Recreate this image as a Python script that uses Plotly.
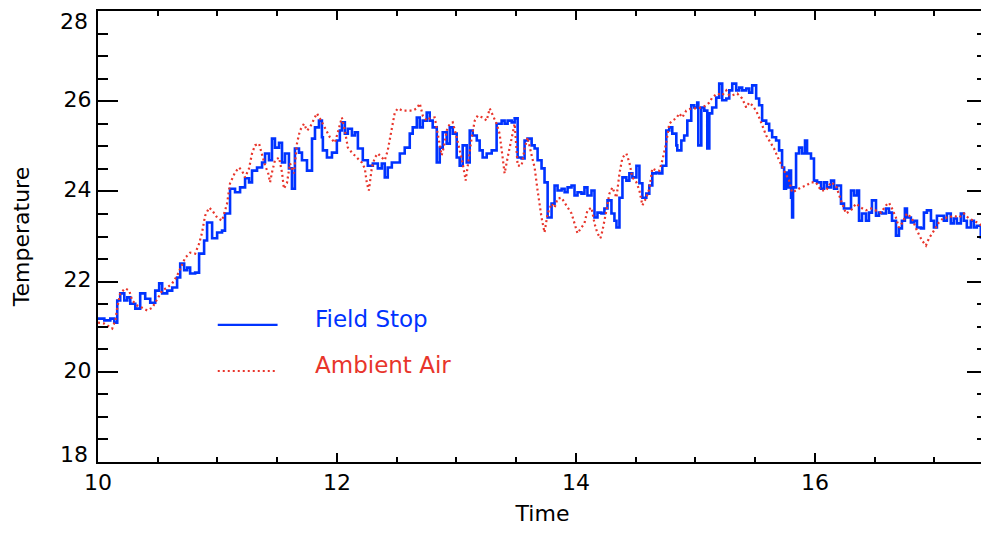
import plotly.graph_objects as go

# ---- data ----
series_names = ["Field Stop", "Ambient Air"]

field_time = [10.000, 10.053, 10.103, 10.136, 10.161, 10.186, 10.220, 10.245, 10.270, 10.312,
              10.353, 10.395, 10.437, 10.479, 10.512, 10.537, 10.579, 10.621, 10.662, 10.688,
              10.721, 10.746, 10.771, 10.813, 10.846, 10.888, 10.913, 10.955, 10.997, 11.038,
              11.063, 11.105, 11.147, 11.189, 11.231, 11.264, 11.289, 11.331, 11.373, 11.398,
              11.431, 11.456, 11.481, 11.515, 11.540, 11.565, 11.598, 11.623, 11.648, 11.682,
              11.707, 11.749, 11.791, 11.816, 11.849, 11.874, 11.882, 11.916, 11.958, 11.999,
              12.024, 12.041, 12.066, 12.091, 12.125, 12.150, 12.175, 12.216, 12.258, 12.300,
              12.342, 12.375, 12.400, 12.425, 12.459, 12.484, 12.526, 12.567, 12.609, 12.634,
              12.668, 12.693, 12.718, 12.751, 12.776, 12.801, 12.835, 12.860, 12.885, 12.918,
              12.944, 12.969, 13.002, 13.027, 13.052, 13.086, 13.111, 13.136, 13.170, 13.194,
              13.219, 13.253, 13.295, 13.336, 13.378, 13.403, 13.428, 13.462, 13.487, 13.512,
              13.545, 13.570, 13.595, 13.629, 13.654, 13.679, 13.712, 13.737, 13.763, 13.796,
              13.821, 13.846, 13.880, 13.905, 13.930, 13.963, 13.988, 14.013, 14.046, 14.071,
              14.096, 14.130, 14.155, 14.180, 14.213, 14.238, 14.264, 14.297, 14.322, 14.339,
              14.364, 14.389, 14.422, 14.447, 14.472, 14.506, 14.531, 14.556, 14.589, 14.614,
              14.639, 14.673, 14.698, 14.723, 14.756, 14.781, 14.806, 14.840, 14.848, 14.882,
              14.906, 14.932, 14.965, 14.990, 15.015, 15.024, 15.049, 15.074, 15.099, 15.116,
              15.140, 15.174, 15.199, 15.224, 15.258, 15.283, 15.308, 15.341, 15.366, 15.391,
              15.425, 15.450, 15.475, 15.508, 15.533, 15.558, 15.592, 15.617, 15.642, 15.675,
              15.700, 15.725, 15.742, 15.758, 15.767, 15.784, 15.800, 15.809, 15.817, 15.842,
              15.867, 15.892, 15.917, 15.934, 15.967, 15.992, 16.018, 16.051, 16.076, 16.101,
              16.135, 16.160, 16.185, 16.218, 16.243, 16.268, 16.302, 16.327, 16.352, 16.369,
              16.394, 16.427, 16.452, 16.477, 16.511, 16.536, 16.561, 16.594, 16.620, 16.645,
              16.678, 16.703, 16.728, 16.753, 16.770, 16.803, 16.829, 16.854, 16.887, 16.912,
              16.937, 16.971, 16.996, 17.021, 17.054, 17.079, 17.104, 17.137, 17.162, 17.188,
              17.221, 17.246, 17.271, 17.305, 17.330, 17.355, 17.388, 17.413, 17.438]
field_temp = [21.18, 21.14, 21.18, 21.09, 21.58, 21.74, 21.58, 21.65, 21.51, 21.40,
              21.74, 21.62, 21.53, 21.80, 21.96, 21.74, 21.80, 21.87, 22.09, 22.40,
              22.25, 22.31, 22.18, 22.20, 22.62, 22.91, 23.31, 22.96, 23.09, 23.13,
              23.51, 24.06, 23.98, 24.09, 24.29, 24.20, 24.46, 24.53, 24.64, 24.84,
              24.69, 25.17, 24.97, 25.08, 24.64, 24.84, 24.51, 24.06, 24.95, 24.86,
              24.69, 24.46, 25.17, 25.42, 25.57, 25.20, 24.91, 24.75, 24.86, 25.13,
              25.35, 25.53, 25.28, 25.39, 25.24, 25.31, 24.95, 24.69, 24.57, 24.62,
              24.51, 24.62, 24.31, 24.53, 24.64, 24.64, 24.84, 24.97, 25.28, 25.42,
              25.64, 25.42, 25.57, 25.75, 25.57, 25.42, 24.64, 24.97, 25.31, 25.06,
              25.42, 25.28, 24.75, 24.57, 25.02, 24.64, 25.35, 25.24, 25.13, 24.91,
              24.75, 24.84, 24.91, 25.50, 25.57, 25.50, 25.57, 25.53, 25.62, 24.75,
              24.73, 25.13, 25.17, 25.02, 24.95, 24.69, 24.51, 24.20, 23.42, 23.73,
              24.13, 24.02, 24.06, 23.98, 24.09, 24.13, 23.91, 23.98, 23.95, 24.09,
              23.91, 24.02, 23.42, 23.53, 23.51, 23.62, 23.80, 23.51, 23.35, 23.20,
              23.86, 24.31, 24.24, 24.40, 24.31, 24.57, 24.18, 23.86, 23.95, 24.13,
              24.40, 24.42, 24.40, 24.57, 25.35, 25.42, 25.28, 25.02, 24.91, 25.13,
              25.24, 25.57, 25.91, 25.86, 25.97, 25.02, 25.86, 25.79, 24.95, 25.73,
              25.86, 26.08, 26.39, 26.02, 26.06, 26.24, 26.39, 26.24, 26.30, 26.24,
              26.28, 26.19, 26.35, 26.06, 25.91, 25.57, 25.50, 25.35, 25.20, 25.13,
              24.91, 24.53, 24.06, 24.42, 24.09, 24.46, 23.86, 23.42, 24.09, 24.84,
              24.97, 24.84, 25.13, 24.84, 24.73, 24.24, 24.20, 24.06, 24.20, 24.09,
              24.24, 24.06, 24.13, 23.73, 23.62, 23.62, 24.02, 23.91, 24.02, 23.35,
              23.51, 23.35, 23.53, 23.80, 23.46, 23.53, 23.51, 23.62, 23.53, 23.35,
              23.02, 23.18, 23.35, 23.62, 23.42, 23.31, 23.35, 23.20, 23.18, 23.53,
              23.58, 23.35, 23.20, 23.46, 23.46, 23.35, 23.51, 23.29, 23.40, 23.29,
              23.51, 23.35, 23.20, 23.35, 23.20, 23.24, 22.98, 23.29, 23.35]

air_time = [10.000, 10.053, 10.119, 10.145, 10.161, 10.186, 10.228, 10.261, 10.287, 10.328,
            10.370, 10.412, 10.454, 10.495, 10.537, 10.579, 10.621, 10.662, 10.704, 10.730,
            10.771, 10.813, 10.846, 10.871, 10.896, 10.930, 10.955, 10.997, 11.038, 11.080,
            11.105, 11.147, 11.180, 11.205, 11.231, 11.264, 11.289, 11.314, 11.348, 11.373,
            11.398, 11.423, 11.440, 11.456, 11.481, 11.515, 11.540, 11.556, 11.581, 11.607,
            11.640, 11.665, 11.690, 11.724, 11.749, 11.774, 11.807, 11.832, 11.857, 11.899,
            11.941, 11.983, 12.008, 12.041, 12.066, 12.091, 12.125, 12.150, 12.175, 12.208,
            12.233, 12.250, 12.267, 12.292, 12.317, 12.342, 12.375, 12.400, 12.425, 12.459,
            12.484, 12.509, 12.551, 12.592, 12.634, 12.668, 12.693, 12.718, 12.751, 12.776,
            12.818, 12.843, 12.876, 12.893, 12.918, 12.944, 12.969, 13.002, 13.027, 13.052,
            13.077, 13.094, 13.128, 13.153, 13.178, 13.219, 13.253, 13.278, 13.303, 13.336,
            13.361, 13.387, 13.403, 13.428, 13.462, 13.487, 13.512, 13.545, 13.570, 13.595,
            13.629, 13.654, 13.679, 13.712, 13.737, 13.763, 13.796, 13.821, 13.846, 13.880,
            13.905, 13.930, 13.963, 13.988, 14.013, 14.046, 14.071, 14.096, 14.130, 14.155,
            14.180, 14.205, 14.222, 14.255, 14.280, 14.305, 14.339, 14.364, 14.389, 14.422,
            14.447, 14.472, 14.506, 14.531, 14.556, 14.589, 14.614, 14.639, 14.673, 14.698,
            14.723, 14.756, 14.781, 14.806, 14.840, 14.865, 14.890, 14.923, 14.965, 15.007,
            15.049, 15.091, 15.116, 15.140, 15.182, 15.224, 15.258, 15.283, 15.308, 15.350,
            15.391, 15.425, 15.450, 15.475, 15.508, 15.533, 15.558, 15.592, 15.617, 15.658,
            15.700, 15.742, 15.784, 15.809, 15.842, 15.884, 15.926, 15.967, 16.009, 16.051,
            16.093, 16.135, 16.176, 16.218, 16.260, 16.302, 16.344, 16.386, 16.427, 16.469,
            16.511, 16.553, 16.594, 16.620, 16.645, 16.678, 16.703, 16.728, 16.770, 16.812,
            16.854, 16.896, 16.929, 16.954, 16.996, 17.037, 17.079, 17.121, 17.162, 17.204,
            17.246, 17.288, 17.330, 17.371, 17.413, 17.438]
air_temp = [21.09, 21.07, 20.96, 21.14, 21.42, 21.74, 21.85, 21.80, 21.58, 21.47,
            21.42, 21.36, 21.42, 21.62, 21.80, 21.87, 21.96, 22.13, 22.40, 22.53,
            22.64, 22.62, 22.84, 23.09, 23.46, 23.64, 23.58, 23.42, 23.35, 23.73,
            24.18, 24.42, 24.53, 24.46, 24.31, 24.51, 24.84, 25.02, 25.06, 24.84,
            24.57, 24.42, 24.20, 24.42, 24.69, 24.75, 24.42, 24.06, 24.18, 24.62,
            24.40, 25.06, 25.35, 25.50, 25.35, 25.42, 25.62, 25.73, 25.62, 25.42,
            25.20, 25.08, 25.35, 25.64, 25.35, 24.97, 24.86, 24.80, 24.73, 24.64,
            24.51, 24.18, 24.02, 24.53, 24.75, 24.84, 24.75, 24.69, 24.91, 25.42,
            25.75, 25.84, 25.79, 25.79, 25.79, 25.84, 25.95, 25.68, 25.57, 25.62,
            25.64, 25.28, 24.80, 24.97, 25.35, 25.50, 25.53, 25.20, 24.91, 24.62,
            24.24, 24.57, 25.20, 25.57, 25.68, 25.64, 25.57, 25.84, 25.68, 25.50,
            25.28, 24.75, 24.40, 24.75, 25.20, 25.50, 24.57, 24.57, 24.95, 25.20,
            24.80, 24.53, 24.02, 23.42, 23.09, 23.51, 23.73, 23.64, 23.84, 23.86,
            23.75, 23.64, 23.51, 23.29, 23.07, 23.20, 23.29, 23.58, 23.64, 23.29,
            23.07, 22.96, 23.13, 23.58, 23.95, 24.09, 23.86, 24.40, 24.75, 24.84,
            24.64, 24.31, 24.20, 24.02, 23.69, 23.86, 24.06, 24.51, 24.46, 24.46,
            24.69, 25.08, 25.50, 25.57, 25.62, 25.73, 25.64, 25.79, 25.84, 25.84,
            25.86, 25.91, 25.97, 26.08, 26.17, 26.13, 26.24, 26.13, 26.13, 26.17,
            26.06, 25.86, 25.97, 25.91, 25.79, 25.64, 25.46, 25.24, 25.13, 24.95,
            24.69, 24.46, 24.24, 23.98, 24.02, 24.09, 24.13, 24.20, 24.20, 24.02,
            24.02, 24.20, 24.13, 23.80, 23.51, 23.58, 23.73, 23.64, 23.58, 23.62,
            23.58, 23.53, 23.69, 23.75, 23.62, 23.42, 23.20, 23.29, 23.51, 23.40,
            23.13, 22.91, 22.80, 22.96, 23.13, 23.31, 23.42, 23.42, 23.46, 23.42,
            23.51, 23.40, 23.35, 23.29, 23.20, 23.29]

x_tickvals = [10, 12, 14, 16]
y_tickvals = [20, 22, 24, 26]          # labelled on the axis
y_edge_labels = [(28, -10), (18, 8)]    # end labels nudged inwards as in the reference
x_title = "Time"
y_title = "Temperature"

blue = "#0033ff"
red = "#e8352b"
font_family = "DejaVu Sans, Liberation Sans, sans-serif"

fig = go.Figure()
fig.add_trace(go.Scatter(x=field_time, y=field_temp, mode="lines", name=series_names[0],
                         line=dict(color=blue, width=2.6, shape="hv"), showlegend=False))
fig.add_trace(go.Scatter(x=air_time, y=air_temp, mode="lines", name=series_names[1],
                         line=dict(color=red, width=2.2, dash="2px,3px"), showlegend=False))

# legend drawn by hand (line samples + coloured labels) in paper coordinates
legend_items = [(series_names[0], blue, "solid", 2.4, 0.304, 0.317),
                (series_names[1], red, "2px,3px", 2.0, 0.202, 0.215)]
for name, col, dash, w, ly, ty in legend_items:
    fig.add_shape(type="line", xref="paper", yref="paper", x0=0.1347, x1=0.202, y0=ly, y1=ly,
                  line=dict(color=col, width=w, dash=dash))
    fig.add_annotation(xref="paper", yref="paper", x=0.2413, y=ty, text=name, showarrow=False,
                       xanchor="left", yanchor="middle",
                       font=dict(family=font_family, size=23, color=col))

for val, shift in y_edge_labels:
    fig.add_annotation(xref="paper", yref="y", x=0, y=val, text=str(val), showarrow=False,
                       xanchor="right", yanchor="middle", xshift=-8, yshift=shift,
                       font=dict(family=font_family, size=22, color="black"))

fig.update_layout(
    width=981, height=527,
    margin=dict(l=90, r=0, t=3, b=73),
    paper_bgcolor="white", plot_bgcolor="white",
    font=dict(family=font_family, size=22, color="black"),
)
fig.update_xaxes(
    range=[10, 17.44], tickvals=x_tickvals, ticks="inside", ticklen=9, tickwidth=2,
    tickcolor="black", showline=True, linecolor="black", linewidth=2, mirror="allticks",
    showgrid=False, zeroline=False,
    minor=dict(dtick=0.5, tick0=10, ticks="inside", ticklen=5, tickwidth=2, tickcolor="black", showgrid=False),
    title=dict(text=x_title, font=dict(size=22), standoff=11),
    tickfont=dict(size=22),
)
fig.update_yaxes(
    range=[18, 28], tickvals=y_tickvals, ticks="inside", ticklen=20, tickwidth=2,
    tickcolor="black", showline=True, linecolor="black", linewidth=2, mirror="allticks",
    showgrid=False, zeroline=False, ticklabelshift=-2,
    minor=dict(dtick=0.5, tick0=18, ticks="inside", ticklen=10, tickwidth=2, tickcolor="black", showgrid=False),
    title=dict(text=y_title, font=dict(size=22), standoff=28),
    tickfont=dict(size=22),
)

fig.write_html("out.html")
